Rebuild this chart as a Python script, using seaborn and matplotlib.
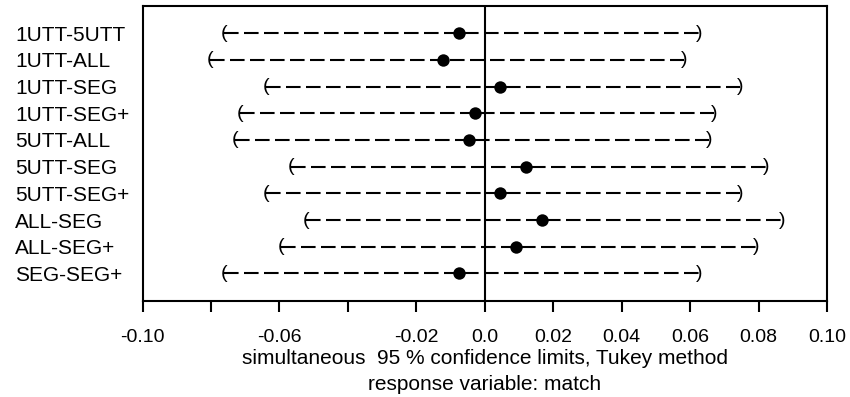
import matplotlib
matplotlib.use("Agg")
import matplotlib.pyplot as plt
import seaborn as sns
import pandas as pd

comparisons = ["1UTT-5UTT", "1UTT-ALL", "1UTT-SEG", "1UTT-SEG+", "5UTT-ALL",
               "5UTT-SEG", "5UTT-SEG+", "ALL-SEG", "ALL-SEG+", "SEG-SEG+"]
estimate = [-0.0075, -0.0122, 0.0045, -0.0028, -0.0045,
            0.0120, 0.0045, 0.0166, 0.0090, -0.0074]
lower = [-0.0761, -0.0804, -0.0640, -0.0715, -0.0731,
         -0.0567, -0.0640, -0.0522, -0.0596, -0.0761]
upper = [0.0628, 0.0582, 0.0747, 0.0671, 0.0655,
         0.0822, 0.0747, 0.0868, 0.0792, 0.0627]
xticks = [-0.10, -0.08, -0.06, -0.04, -0.02, 0.0, 0.02, 0.04, 0.06, 0.08, 0.10]
xticklabels = ["-0.10", "", "-0.06", "", "-0.02", "0.0", "0.02", "0.04", "0.06", "0.08", "0.10"]
title1 = "simultaneous  95 % confidence limits, Tukey method"
title2 = "response variable: match"

df = pd.DataFrame({"comparison": comparisons, "estimate": estimate,
                   "lower": lower, "upper": upper})

sns.set_theme(style="ticks")
plt.rcParams["font.family"] = ["Liberation Sans", "DejaVu Sans"]
plt.rcParams.update({"text.color": "black", "axes.labelcolor": "black",
                     "xtick.color": "black", "ytick.color": "black",
                     "axes.edgecolor": "black"})

W, H = 850, 397
fig = plt.figure(figsize=(W / 100, H / 100), dpi=100)
left, right, top, bottom = 142.5, 827, 5.7, 300.7
ax = fig.add_axes([left / W, 1 - bottom / H, (right - left) / W, (bottom - top) / H])

pos = list(range(len(df)))
ax.hlines(pos, df["lower"], df["upper"], colors="black", lw=1.5,
          linestyles=[(0, (7.0, 2.6))])
ax.axvline(0, color="black", lw=1.5)
sns.scatterplot(data=df, x="estimate", y="comparison", ax=ax, color="black",
                s=80, edgecolor="black", linewidth=0, zorder=5)
for i, (lo, up) in enumerate(zip(df["lower"], df["upper"])):
    ax.text(lo, i, "(", ha="center", va="center", fontsize=14, color="black")
    ax.text(up, i, ")", ha="center", va="center", fontsize=14, color="black")

ax.set_xlim(-0.10, 0.10)
ax.set_ylim(10.02, -1.03)
ax.set_xticks(xticks)
ax.set_xticklabels(xticklabels, fontsize=14, color="black")
ax.set_yticks(pos)
ax.set_yticklabels(comparisons, fontsize=15, ha="left", color="black")
ax.tick_params(axis="y", length=0, pad=(left - 15) * 0.72)
ax.tick_params(axis="x", length=8, width=1.5, pad=12.5, colors="black")
for s in ax.spines.values():
    s.set_visible(True)
    s.set_linewidth(1.5)
    s.set_color("black")
ax.set_xlabel("")
ax.set_ylabel("")
ax.grid(False)

fig.text((left + right) / 2 / W, 1 - 358 / H, title1, ha="center", va="center",
         fontsize=15, color="black")
fig.text((left + right) / 2 / W, 1 - 384 / H, title2, ha="center", va="center",
         fontsize=15, color="black")

fig.savefig("out.png", dpi=100, facecolor="white")
